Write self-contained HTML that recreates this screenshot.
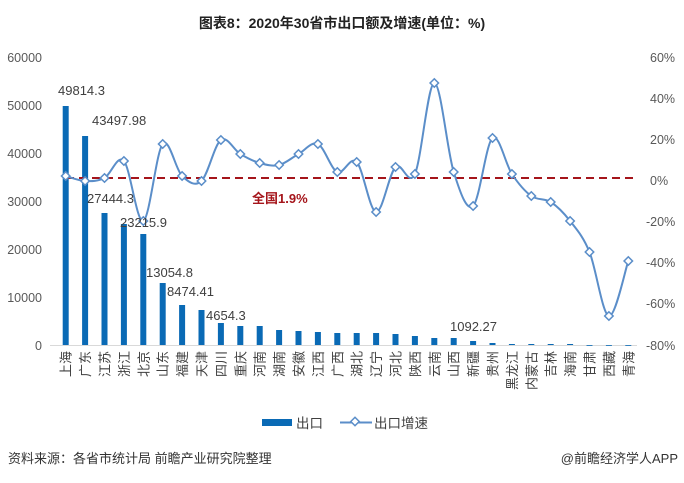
<!DOCTYPE html>
<html><head><meta charset="utf-8"><style>
body{margin:0;background:#fff}
svg text{font-family:"Liberation Sans","Noto Sans CJK SC",sans-serif}
</style></head><body>
<svg width="684" height="478" viewBox="0 0 684 478" xmlns="http://www.w3.org/2000/svg">
<text x="342" y="28" text-anchor="middle" font-size="14" font-weight="bold" fill="#222">图表8：2020年30省市出口额及增速(单位：%)</text>
<g font-size="12.5" fill="#595959" text-anchor="end">
<text x="42" y="62">60000</text><text x="42" y="110">50000</text><text x="42" y="158">40000</text><text x="42" y="206">30000</text><text x="42" y="254">20000</text><text x="42" y="302">10000</text><text x="42" y="350">0</text>
</g>
<g font-size="12.5" fill="#595959" text-anchor="start">
<text x="650" y="62">60%</text><text x="650" y="103">40%</text><text x="650" y="144">20%</text><text x="650" y="185">0%</text><text x="646" y="226">-20%</text><text x="646" y="267">-40%</text><text x="646" y="308">-60%</text><text x="646" y="350">-80%</text>
</g>
<line x1="50" y1="345.5" x2="637" y2="345.5" stroke="#d9d9d9" stroke-width="1"/>
<g fill="#0a6ab5" id="bars"></g>
<line x1="66" y1="178" x2="637" y2="178" stroke="#a5151b" stroke-width="2" stroke-dasharray="8,5"/>
<path id="ln" fill="none" stroke="#5b8ec9" stroke-width="2"/>
<g id="mk"></g>
<g font-size="13" fill="#404040" id="lbl">
<text x="58" y="95">49814.3</text>
<text x="92" y="125">43497.98</text>
<text x="87" y="203">27444.3</text>
<text x="120" y="227">23215.9</text>
<text x="146" y="277">13054.8</text>
<text x="167" y="296">8474.41</text>
<text x="206" y="320">4654.3</text>
<text x="450" y="331">1092.27</text>
</g>
<text x="252" y="203" font-size="13" font-weight="bold" fill="#a5151b">全国1.9%</text>
<g id="cats" font-size="13" fill="#404040"></g>
<rect x="262" y="419" width="30" height="7" fill="#0a6ab5"/>
<text x="296" y="428" font-size="13.5" fill="#404040">出口</text>
<line x1="340" y1="422.5" x2="372" y2="422.5" stroke="#5b8ec9" stroke-width="2"/>
<rect x="352" y="418.5" width="6" height="6" transform="rotate(45 355 421.5)" fill="#fff" stroke="#5b8ec9" stroke-width="1.5"/>
<text x="374" y="428" font-size="13.5" fill="#404040">出口增速</text>
<text x="8" y="463" font-size="13" fill="#333">资料来源：各省市统计局 前瞻产业研究院整理</text>
<text x="678" y="463" font-size="13" fill="#333" text-anchor="end">@前瞻经济学人APP</text>
</svg>
<script>
var names=["上海","广东","江苏","浙江","北京","山东","福建","天津","四川","重庆","河南","湖南","安徽","江西","广西","湖北","辽宁","河北","陕西","云南","山西","新疆","贵州","黑龙江","内蒙古","吉林","海南","甘肃","西藏","青海"];
var tops=[106,136,213,224,234,283,305,310,323,326,326,330,331,332,333,333,333,334,336,338,338,341,343,344,344,344,344,345,345,345];
var ly=[176,181,178,161,221,144,176,181,140,154,163,165,154,144,172,162,212,167,174,83,172,206,138,174,196,202,221,252,316,261];
var ns="http://www.w3.org/2000/svg",b=document.getElementById("bars"),m=document.getElementById("mk"),c=document.getElementById("cats");
var pts=[];
for(var i=0;i<30;i++){var x=65.7+i*19.4;pts.push([x,ly[i]]);
var r=document.createElementNS(ns,"rect");r.setAttribute("x",x-3);r.setAttribute("y",tops[i]);r.setAttribute("width",6);r.setAttribute("height",Math.max(345-tops[i],0.8));b.appendChild(r);
var d=document.createElementNS(ns,"rect");d.setAttribute("x",x-3);d.setAttribute("y",ly[i]-3);d.setAttribute("width",6);d.setAttribute("height",6);d.setAttribute("transform","rotate(45 "+x+" "+ly[i]+")");d.setAttribute("fill","#fff");d.setAttribute("stroke","#5b8ec9");d.setAttribute("stroke-width","1.5");m.appendChild(d);
var t=document.createElementNS(ns,"text");t.setAttribute("transform","translate("+(x+5)+",351) rotate(-90)");t.setAttribute("text-anchor","end");t.textContent=names[i];c.appendChild(t);}
var p="M"+pts[0][0]+","+pts[0][1];
for(var i=0;i<29;i++){var p0=pts[Math.max(i-1,0)],p1=pts[i],p2=pts[i+1],p3=pts[Math.min(i+2,29)];
p+=" C"+(p1[0]+(p2[0]-p0[0])/6)+","+(p1[1]+(p2[1]-p0[1])/6)+" "+(p2[0]-(p3[0]-p1[0])/6)+","+(p2[1]-(p3[1]-p1[1])/6)+" "+p2[0]+","+p2[1];}
document.getElementById("ln").setAttribute("d",p);
</script>
</body></html>
